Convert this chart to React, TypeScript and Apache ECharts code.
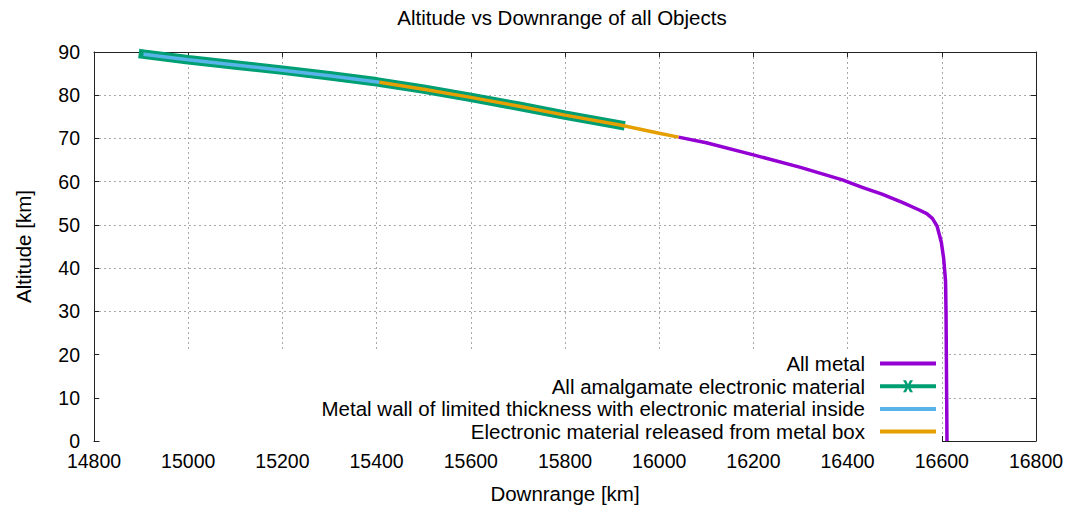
import React, { useEffect, useRef } from "react";
import * as echarts from "echarts";

const titleText = "Altitude vs Downrange of all Objects";
const xAxisName = "Downrange [km]";
const yAxisName = "Altitude [km]";

const seriesNames = [
  "All metal",
  "All amalgamate electronic material",
  "Metal wall of limited thickness with electronic material inside",
  "Electronic material released from metal box",
];
const seriesColors = ["#9400D3", "#009E73", "#56B4E9", "#E69F00"];

// All metal (visible part)
const metalDownrange = [16041, 16100, 16200, 16300, 16389, 16431, 16473, 16516, 16551, 16568, 16580, 16590, 16599, 16604, 16608, 16609, 16610, 16611];
const metalAltitude = [70.3, 69.0, 66.2, 63.3, 60.4, 58.7, 57.1, 55.2, 53.5, 52.6, 51.5, 49.7, 46.0, 42.2, 36.9, 29.4, 15.0, 0];

// All amalgamate electronic material
const amalgDownrange = [14905, 15000, 15100, 15200, 15300, 15400, 15500, 15600, 15700, 15800, 15917];
const amalgAltitude = [89.5, 88.2, 87.0, 85.8, 84.5, 83.1, 81.4, 79.5, 77.5, 75.4, 73.1];

// Metal wall with electronic material inside
const wallDownrange = [14905, 15000, 15100, 15200, 15300, 15406];
const wallAltitude = [89.5, 88.2, 87.0, 85.8, 84.5, 83.0];

// Electronic material released from metal box
const releasedDownrange = [15406, 15500, 15600, 15700, 15800, 15917, 16000, 16041];
const releasedAltitude = [83.0, 81.4, 79.5, 77.5, 75.4, 73.1, 71.2, 70.3];

const xMin = 14800;
const xMax = 16800;
const xStep = 200;
const yMin = 0;
const yMax = 90;
const yStep = 10;

const FONT = "'Liberation Sans', Arial, sans-serif";
const FS = 20.5;
const TICK_FS = 19.5;

function pairs(xs: number[], ys: number[]) {
  return xs.map((x, i) => [x, ys[i]]);
}

const lineIcon = "path://M0,0H56V4H0Z";
const lineXIcon =
  "path://M0,4H56V8H0Z M23,0H26L28,4L30,0H33L29.5,6L33,12H30L28,8L26,12H23L26.5,6Z";

export default function App() {
  const ref = useRef<HTMLDivElement>(null);

  useEffect(() => {
    if (!ref.current) return;
    const chart = echarts.init(ref.current, undefined, { renderer: "svg" });

    const axisLineStyle = { color: "#222", width: 1 };
    const gridLine = {
      show: true,
      lineStyle: { color: "#a8a8a8", width: 1, type: [2, 3] as any },
    };

    const option: any = {
      animation: false,
      backgroundColor: "#ffffff",
      textStyle: { fontFamily: FONT },
      title: {
        text: titleText,
        left: 557,
        textAlign: "center",
        top: 2,
        textStyle: { fontFamily: FONT, fontSize: FS, fontWeight: "normal", color: "#000" },
      },
      grid: { left: 94, right: 33, top: 52, bottom: 59, containLabel: false },
      legend: {
        orient: "vertical",
        align: "right",
        right: 127,
        top: 352,
        itemWidth: 56,
        itemHeight: 12,
        itemGap: 1.7,
        symbolKeepAspect: true,
        backgroundColor: "#ffffff",
        padding: [1, 6, 7, 222],
        itemStyle: { borderWidth: 0 },
        textStyle: { fontFamily: FONT, fontSize: FS, color: "#000", padding: [0, 10, 0, 0] },
        data: [
          { name: seriesNames[0], icon: lineIcon },
          { name: seriesNames[1], icon: lineXIcon },
          { name: seriesNames[2], icon: lineIcon },
          { name: seriesNames[3], icon: lineIcon },
        ],
      },
      xAxis: [
        {
          type: "value",
          min: xMin,
          max: xMax,
          interval: xStep,
          position: "bottom",
          name: xAxisName,
          nameLocation: "middle",
          nameGap: 42,
          nameTextStyle: { fontFamily: FONT, fontSize: FS, color: "#000" },
          axisLine: { show: true, onZero: false, lineStyle: axisLineStyle },
          axisTick: { show: true, inside: true, length: 5, lineStyle: axisLineStyle },
          axisLabel: {
            show: true,
            margin: 10,
            fontFamily: FONT,
            fontSize: TICK_FS,
            color: "#000",
            formatter: (v: number) => String(v),
          },
          splitLine: gridLine,
        },
        {
          type: "value",
          min: xMin,
          max: xMax,
          interval: xStep,
          position: "top",
          axisLine: { show: true, onZero: false, lineStyle: axisLineStyle },
          axisTick: { show: true, inside: true, length: 5, lineStyle: axisLineStyle },
          axisLabel: { show: false },
          splitLine: { show: false },
        },
      ],
      yAxis: [
        {
          type: "value",
          min: yMin,
          max: yMax,
          interval: yStep,
          position: "left",
          name: yAxisName,
          nameLocation: "middle",
          nameGap: 60,
          nameTextStyle: { fontFamily: FONT, fontSize: FS, color: "#000" },
          axisLine: { show: true, onZero: false, lineStyle: axisLineStyle },
          axisTick: { show: true, inside: true, length: 5, lineStyle: axisLineStyle },
          axisLabel: {
            show: true,
            margin: 14,
            lineHeight: 14,
            padding: [0, 0, 6, 0],
            fontFamily: FONT,
            fontSize: TICK_FS,
            color: "#000",
          },
          splitLine: gridLine,
        },
        {
          type: "value",
          min: yMin,
          max: yMax,
          interval: yStep,
          position: "right",
          axisLine: { show: true, onZero: false, lineStyle: axisLineStyle },
          axisTick: { show: true, inside: true, length: 5, lineStyle: axisLineStyle },
          axisLabel: { show: false },
          splitLine: { show: false },
        },
      ],
      series: [
        {
          name: seriesNames[0],
          type: "line",
          data: pairs(metalDownrange, metalAltitude),
          showSymbol: false,
          symbol: "none",
          color: seriesColors[0],
          lineStyle: { color: seriesColors[0], width: 3.5, join: "round" },
          z: 2,
        },
        {
          name: seriesNames[1],
          type: "line",
          data: pairs(amalgDownrange, amalgAltitude),
          showSymbol: false,
          symbol: "none",
          clip: false,
          color: seriesColors[1],
          lineStyle: { color: seriesColors[1], width: 9.5, cap: "square" },
          z: 3,
        },
        {
          name: seriesNames[2],
          type: "line",
          data: pairs(wallDownrange, wallAltitude),
          showSymbol: false,
          symbol: "none",
          color: seriesColors[2],
          lineStyle: { color: seriesColors[2], width: 3.5 },
          z: 4,
        },
        {
          name: seriesNames[3],
          type: "line",
          data: pairs(releasedDownrange, releasedAltitude),
          showSymbol: false,
          symbol: "none",
          color: seriesColors[3],
          lineStyle: { color: seriesColors[3], width: 3.5 },
          z: 4,
        },
      ],
    };

    chart.setOption(option);
    return () => chart.dispose();
  }, []);

  return (
    <div
      ref={ref}
      style={{ position: "fixed", left: 0, top: 0, width: 1069, height: 509, background: "#fff" }}
    />
  );
}
